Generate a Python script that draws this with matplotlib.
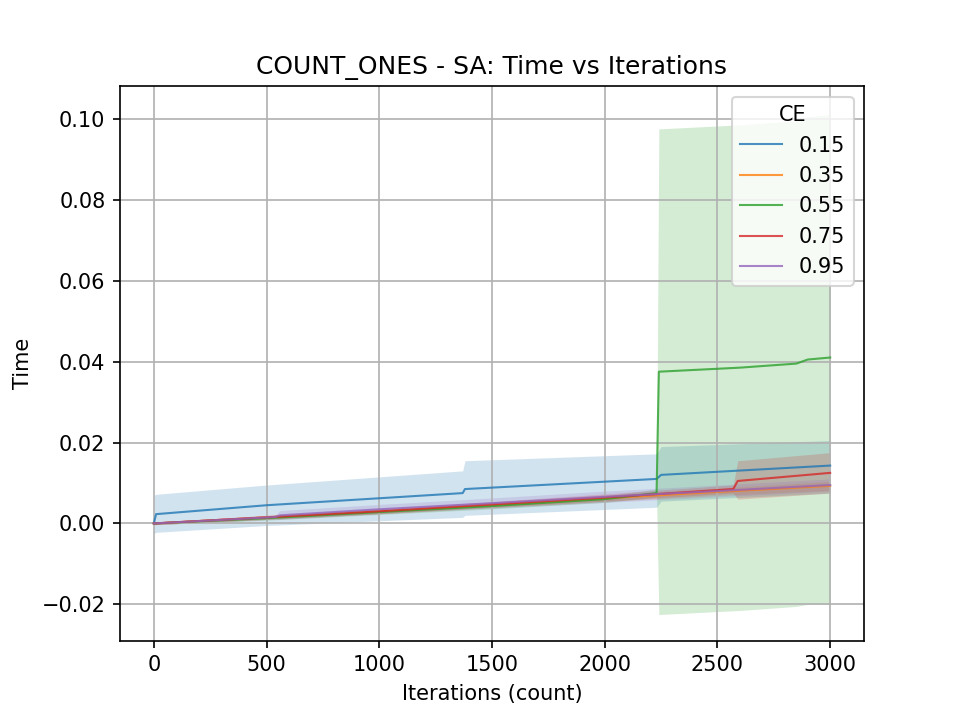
import numpy as np
import matplotlib.pyplot as plt

# valeurs (iterations, moyenne, bas, haut)
labels = ['0.15', '0.35', '0.55', '0.75', '0.95']

it_015 = [0, 10, 500, 1370, 1380, 2230, 2250, 3000]
mean_015 = [0.0, 0.0023, 0.0045, 0.0075, 0.0085, 0.0110, 0.0120, 0.0143]
low_015 = [-0.0025, -0.0022, -0.0005, 0.0015, 0.0020, 0.0040, 0.0055, 0.0075]
high_015 = [0.0070, 0.0072, 0.0095, 0.0130, 0.0155, 0.0172, 0.0190, 0.0205]

it_035 = [0, 500, 1000, 1500, 2000, 2500, 3000]
mean_035 = [0.0, 0.0015, 0.0030, 0.0046, 0.0062, 0.0078, 0.0093]
low_035 = [-0.0003, 0.0010, 0.0024, 0.0039, 0.0054, 0.0069, 0.0082]
high_035 = [0.0003, 0.0020, 0.0036, 0.0053, 0.0070, 0.0087, 0.0104]

it_055 = [0, 500, 1000, 1500, 2000, 2230, 2240, 2600, 2850, 2900, 3000]
mean_055 = [0.0, 0.0013, 0.0028, 0.0043, 0.0060, 0.0075, 0.0375, 0.0385, 0.0395, 0.0405, 0.0410]
low_055 = [-0.0003, 0.0008, 0.0022, 0.0036, 0.0052, 0.0065, -0.0225, -0.0215, -0.0205, -0.0200, -0.0200]
high_055 = [0.0003, 0.0018, 0.0034, 0.0050, 0.0068, 0.0085, 0.0975, 0.0985, 0.0995, 0.1005, 0.1010]

it_075 = [0, 500, 1000, 1500, 2000, 2570, 2590, 3000]
mean_075 = [0.0, 0.0015, 0.0030, 0.0047, 0.0064, 0.0085, 0.0105, 0.0125]
low_075 = [-0.0003, 0.0010, 0.0024, 0.0040, 0.0055, 0.0075, 0.0060, 0.0075]
high_075 = [0.0003, 0.0020, 0.0036, 0.0054, 0.0073, 0.0095, 0.0155, 0.0175]

it_095 = [0, 540, 560, 1000, 1500, 2000, 2500, 3000]
mean_095 = [0.0, 0.0016, 0.0020, 0.0035, 0.0050, 0.0066, 0.0080, 0.0095]
low_095 = [-0.0003, 0.0011, 0.0010, 0.0024, 0.0038, 0.0052, 0.0066, 0.0080]
high_095 = [0.0003, 0.0021, 0.0032, 0.0047, 0.0063, 0.0080, 0.0095, 0.0110]

series = [
    (it_015, mean_015, low_015, high_015),
    (it_035, mean_035, low_035, high_035),
    (it_055, mean_055, low_055, high_055),
    (it_075, mean_075, low_075, high_075),
    (it_095, mean_095, low_095, high_095),
]
colors = ['tab:blue', 'tab:orange', 'tab:green', 'tab:red', 'tab:purple']

fig, ax = plt.subplots(figsize=(6.4, 4.8), dpi=150)
for (it, m, lo, hi), lab, c in zip(series, labels, colors):
    ax.fill_between(it, lo, hi, color=c, alpha=0.2, linewidth=0)
    ax.plot(it, m, color=c, linewidth=1, alpha=0.8, label=lab)

ax.set_ylim(-0.029, 0.108)
ax.set_title('COUNT_ONES - SA: Time vs Iterations')
ax.set_xlabel('Iterations (count)')
ax.set_ylabel('Time')
ax.grid(True)
ax.legend(title='CE', loc='upper right')
plt.savefig('out.png')
